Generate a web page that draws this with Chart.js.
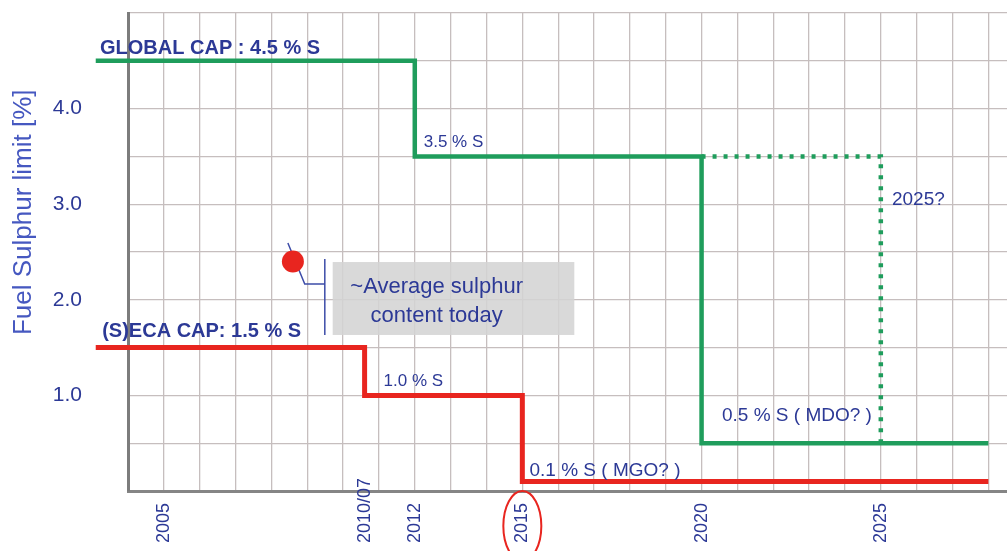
<!DOCTYPE html>
<html><head><meta charset="utf-8">
<script src="https://cdn.jsdelivr.net/npm/chart.js@4.4.1/dist/chart.umd.min.js"></script>
<style>html,body{margin:0;padding:0;background:#fff;overflow:hidden}#wrap{width:1007px;height:551px;position:relative}</style>
</head><body><div id="wrap"><canvas id="c" width="1007" height="551"></canvas></div>
<script>
// ---- data ----
const globalCapYears = [2003.1, 2012, 2020, 2028];
const globalCapLimits = [4.5, 3.5, 0.5, 0.5];
const altGlobalYears = [2020, 2025];
const altGlobalLimits = [3.5, 0.5];
const ecaCapYears = [2003.1, 2010.6, 2015, 2028];
const ecaCapLimits = [1.5, 1.0, 0.1, 0.1];
const averageYears = [2008.6];
const averageSulphur = [2.4];
const xTickYears = [2005, 2010.6, 2012, 2015, 2020, 2025];
const xTickLabels = ['2005', '2010/07', '2012', '2015', '2020', '2025'];
const yTickValues = [1, 2, 3, 4];
const yTickLabels = ['1.0', '2.0', '3.0', '4.0'];
const yTitle = 'Fuel Sulphur limit [%]';

const FONT = "'Liberation Sans', Arial, sans-serif";
const TXT = '#2c3996';
const GRID = '#c6bebe';
const GREEN = '#1f9d5c';
const RED = '#e8251f';

const toXY = (xs, ys) => xs.map((x, i) => ({x: x, y: ys[i]}));

// text annotations (layout, in data coordinates)
const notes = [
  {t: 'GLOBAL CAP : 4.5 % S', x: 2003.22, y: 4.571, f: 'bold 20px ' + FONT},
  {t: '3.5 % S', x: 2012.25, y: 3.598, f: '17px ' + FONT},
  {t: '(S)ECA CAP: 1.5 % S', x: 2003.28, y: 1.611, f: 'bold 20px ' + FONT},
  {t: '1.0 % S', x: 2011.13, y: 1.098, f: '17px ' + FONT},
  {t: '0.1 % S ( MGO? )', x: 2015.2, y: 0.157, f: '19px ' + FONT},
  {t: '0.5 % S ( MDO? )', x: 2020.57, y: 0.732, f: '19px ' + FONT},
  {t: '2025?', x: 2025.31, y: 2.992, f: '19px ' + FONT}
];
const box = {x0: 2009.71, x1: 2016.45, y0: 2.395, y1: 1.632,
  lines: [{t: '~Average sulphur', y: 2.071}, {t: 'content today', y: 1.768}], cx: 2012.61};
const bracket = [[2008.46, 2.594], [2008.93, 2.165], [2009.49, 2.165]];
const bracketV = [2009.49, 2.427, 1.632];

const decor = {
  id: 'decor',
  beforeDatasetsDraw(chart) {
    const {ctx, scales: {x, y}} = chart;
    ctx.save();
    ctx.fillStyle = 'rgba(212,212,212,0.88)';
    const bx0 = x.getPixelForValue(box.x0), bx1 = x.getPixelForValue(box.x1);
    const by0 = y.getPixelForValue(box.y0), by1 = y.getPixelForValue(box.y1);
    ctx.fillRect(bx0, by0, bx1 - bx0, by1 - by0);
    ctx.strokeStyle = '#3d4ca8';
    ctx.lineWidth = 1.5;
    ctx.beginPath();
    bracket.forEach((p, i) => {
      const px = x.getPixelForValue(p[0]), py = y.getPixelForValue(p[1]);
      if (i === 0) ctx.moveTo(px, py); else ctx.lineTo(px, py);
    });
    ctx.moveTo(x.getPixelForValue(bracketV[0]), y.getPixelForValue(bracketV[1]));
    ctx.lineTo(x.getPixelForValue(bracketV[0]), y.getPixelForValue(bracketV[2]));
    ctx.stroke();
    ctx.restore();
  },
  afterDatasetsDraw(chart) {
    const {ctx, scales: {x, y}} = chart;
    ctx.save();
    ctx.fillStyle = TXT;
    ctx.textBaseline = 'alphabetic';
    ctx.textAlign = 'left';
    notes.forEach(n => {
      ctx.font = n.f;
      ctx.fillText(n.t, x.getPixelForValue(n.x), y.getPixelForValue(n.y));
    });
    ctx.font = '22px ' + FONT;
    ctx.textAlign = 'center';
    box.lines.forEach(l => ctx.fillText(l.t, x.getPixelForValue(box.cx), y.getPixelForValue(l.y)));
    ctx.restore();
  },
  afterDraw(chart) {
    const {ctx, chartArea, scales: {x}} = chart;
    ctx.save();
    ctx.strokeStyle = RED;
    ctx.lineWidth = 2;
    ctx.beginPath();
    ctx.ellipse(x.getPixelForValue(2015), chartArea.bottom + 35, 19, 35, 0, 0, Math.PI * 2);
    ctx.stroke();
    ctx.restore();
  }
};

new Chart(document.getElementById('c'), {
  type: 'line',
  data: {
    datasets: [
      {label: 'Average sulphur content today', data: toXY(averageYears, averageSulphur), showLine: false,
        pointRadius: 11, pointBackgroundColor: RED, pointBorderWidth: 0, clip: false},
      {label: '(S)ECA cap', data: toXY(ecaCapYears, ecaCapLimits), stepped: 'before', borderColor: RED,
        borderWidth: 5, pointRadius: 0, borderJoinStyle: 'miter', borderCapStyle: 'butt', clip: false},
      {label: 'Global cap', data: toXY(globalCapYears, globalCapLimits), stepped: 'before', borderColor: GREEN,
        borderWidth: 4.5, pointRadius: 0, borderJoinStyle: 'miter', borderCapStyle: 'butt', clip: false},
      {label: 'Global cap 2025?', data: toXY(altGlobalYears, altGlobalLimits), stepped: 'before', borderColor: GREEN,
        borderWidth: 4.5, borderDash: [4, 7], pointRadius: 0, borderCapStyle: 'butt', clip: false}
    ]
  },
  options: {
    responsive: false,
    animation: false,
    devicePixelRatio: 1,
    layout: {autoPadding: false, padding: {left: 0, right: 0, top: 13, bottom: 0}},
    plugins: {legend: {display: false}, tooltip: {enabled: false}},
    scales: {
      x: {
        type: 'linear', min: 2004, max: 2028.52,
        afterBuildTicks(s) {
          const vals = [];
          for (let v = 2004; v <= 2028; v++) vals.push(v);
          xTickYears.forEach(v => { if (!vals.includes(v)) vals.push(v); });
          vals.sort((a, b) => a - b);
          s.ticks = vals.map(v => ({value: v}));
        },
        afterFit(s) { s.height = 60; s.paddingLeft = 0; s.paddingRight = 0; },
        afterUpdate(s) { s._computeLabelArea = () => null; },
        ticks: {
          autoSkip: false, minRotation: 90, maxRotation: 90, padding: -13,
          color: TXT, font: {family: FONT, size: 18},
          callback(v) {
            const i = xTickYears.findIndex(t => Math.abs(t - v) < 1e-6);
            if (i < 0) return '';
            const lab = xTickLabels[i];
            return lab.length < 7 ? lab + '\u00A0'.repeat(5) : lab;
          }
        },
        grid: {color: c => (c.tick && Number.isInteger(c.tick.value)) ? GRID : 'rgba(0,0,0,0)', lineWidth: 1.3, drawTicks: false},
        border: {color: '#858585', width: 3}
      },
      y: {
        min: 0, max: 5,
        afterFit(s) { s.width = 128; s.paddingTop = 0; s.paddingBottom = 0; },
        ticks: {
          stepSize: 0.5, padding: 46, color: TXT, font: {family: FONT, size: 21},
          callback(v) { const i = yTickValues.indexOf(v); return i < 0 ? '' : yTickLabels[i]; }
        },
        title: {display: true, text: '\u00A0'.repeat(11) + yTitle, color: '#4658c0',
          font: {family: FONT, size: 26}, padding: {top: 8, bottom: 0}},
        grid: {color: GRID, lineWidth: 1.3, drawTicks: false},
        border: {color: '#7c7c7c', width: 3}
      }
    }
  },
  plugins: [decor]
});
</script></body></html>
